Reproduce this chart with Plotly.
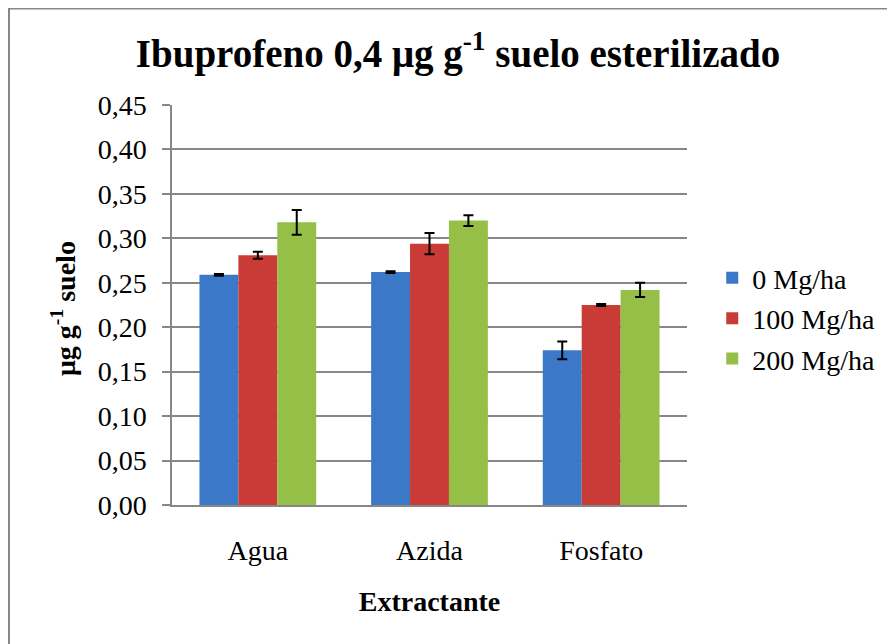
import plotly.graph_objects as go

# Datos
extractantes = ['Agua', 'Azida', 'Fosfato']
series = ['0 Mg/ha', '100 Mg/ha', '200 Mg/ha']
valores = [
    [0.259, 0.262, 0.174],
    [0.281, 0.294, 0.225],
    [0.318, 0.320, 0.242],
]
errores = [
    [0.001, 0.001, 0.010],
    [0.004, 0.012, 0.001],
    [0.014, 0.006, 0.008],
]
y_ticks = [0, 0.05, 0.10, 0.15, 0.20, 0.25, 0.30, 0.35, 0.40, 0.45]
y_tick_labels = ['0,00', '0,05', '0,10', '0,15', '0,20', '0,25', '0,30', '0,35', '0,40', '0,45']

COLORES = ['#3B78C8', '#C93B37', '#95BF46']
GRIS = '#878787'
FUENTE = 'Liberation Serif, Times New Roman, serif'

# la página añade 8px de margen al cuerpo: se compensa aquí
OFF = 8

fig = go.Figure()

for i, nombre in enumerate(series):
    fig.add_trace(go.Bar(
        x=extractantes,
        y=valores[i],
        name=nombre,
        legendgroup=nombre,
        marker=dict(color=COLORES[i], line=dict(width=0)),
        error_y=dict(type='data', array=errores[i], visible=True,
                     color='black', thickness=2, width=5),
    ))

# Marco exterior del gráfico
fig.add_shape(type='rect', xref='paper', yref='paper',
              x0=(9 - 172) / 515, x1=1.5, y0=-0.5, y1=(505 - 8.5) / 400,
              line=dict(color=GRIS, width=2), fillcolor='rgba(0,0,0,0)',
              layer='below')

# Título del eje Y (como anotación para colocarlo donde está en el original)
fig.add_annotation(
    text='<b>μg g<sup>-1</sup> suelo</b>',
    xref='paper', yref='paper', x=(63 - 172) / 515, y=0.49,
    xanchor='center', yanchor='middle', textangle=-90,
    showarrow=False, font=dict(size=28, color='black', family=FUENTE),
)

fig.update_layout(
    title=dict(
        text='<b>Ibuprofeno 0,4 μg g<sup>-1</sup> suelo esterilizado</b>',
        x=(458 - OFF) / 895, xanchor='center', xref='container',
        y=1 - (53 - OFF) / 644, yanchor='middle', yref='container',
        font=dict(size=39, color='black', family=FUENTE),
    ),
    xaxis=dict(
        title=dict(text='<b>Extractante</b>', font=dict(size=28), standoff=26),
        showgrid=False,
        showline=True, linecolor=GRIS, linewidth=1.5,
        ticks='', tickfont=dict(size=28), ticklabelstandoff=20,
    ),
    yaxis=dict(
        range=[0, 0.45],
        tickvals=y_ticks, ticktext=y_tick_labels,
        showgrid=True, gridcolor=GRIS, gridwidth=1.5,
        showline=True, linecolor=GRIS, linewidth=1.5,
        ticks='outside', ticklen=8, tickcolor=GRIS, tickwidth=1.5,
        tickfont=dict(size=28), ticklabelstandoff=10,
        zeroline=False,
    ),
    barmode='group',
    bargap=0.32,
    bargroupgap=0,
    legend=dict(
        x=1.049, xanchor='left', y=0.466, yanchor='middle',
        font=dict(size=28), traceorder='grouped', tracegroupgap=1,
        itemwidth=30,
    ),
    width=895, height=644,
    margin=dict(l=172 - OFF, r=895 - 515 - (172 - OFF), t=105 - OFF, b=644 - 400 - (105 - OFF)),
    paper_bgcolor='white', plot_bgcolor='white',
    font=dict(family=FUENTE, color='black'),
)

fig.write_html('out.html')
